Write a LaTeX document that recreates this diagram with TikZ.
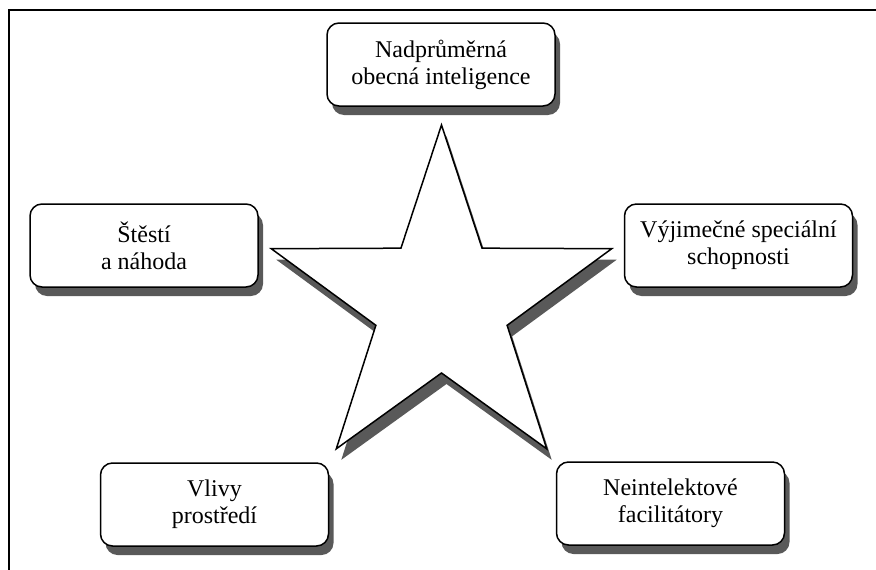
\documentclass[tikz,border=0pt]{standalone}
\usepackage{fontspec}
\setmainfont{Liberation Serif}
\usetikzlibrary{shadows}

\tikzset{
    kasten/.style={draw, line width=1.5pt, rounded corners=12pt, fill=white,
        minimum width=228pt, minimum height=83pt, align=center,
        font=\fontsize{24}{27}\selectfont,
        drop shadow={shadow xshift=5pt, shadow yshift=-9pt, fill=black!65, opacity=1}},
    sternschatten/.style={fill=black!65},
    sternlinie/.style={draw, line width=1.5pt, fill=white, line join=miter},
    rahmen/.style={line width=1.6pt}
}

\begin{document}
\begin{tikzpicture}[x=1pt, y=-1pt]
        \useasboundingbox (0,0) rectangle (876,570);
        % Rahmen
        \coordinate (ecke) at (9,10);
        \draw[rahmen] (9,570) -- (ecke) -- (876,10);
        % Stern
        \foreach \dx/\dy/\stil in {5/11/sternschatten, 0/0/sternlinie}
        {
            \path[\stil, shift={(441.5+\dx, 304+\dy)}] (-90:179)
                \foreach \k in {0,...,4} { -- ({-54+72*\k}:69) -- ({-18+72*\k}:179) } -- cycle;
        }
        % Kaesten
        \node[kasten] (inteligence) at (441, 64.5)  {Nadprůměrná\\obecná inteligence};
        \node[kasten] (stesti)      at (144, 245.5) {Štěstí\\a náhoda};
        \node[kasten] (schopnosti)  at (738.5, 245.5) {Výjimečné speciální\\schopnosti};
        \node[kasten] (vlivy)       at (214.5, 504.5) {Vlivy\\prostředí};
        \node[kasten] (facilitatory) at (670.5, 503.5) {Neintelektové\\facilitátory};
\end{tikzpicture}
\end{document}
